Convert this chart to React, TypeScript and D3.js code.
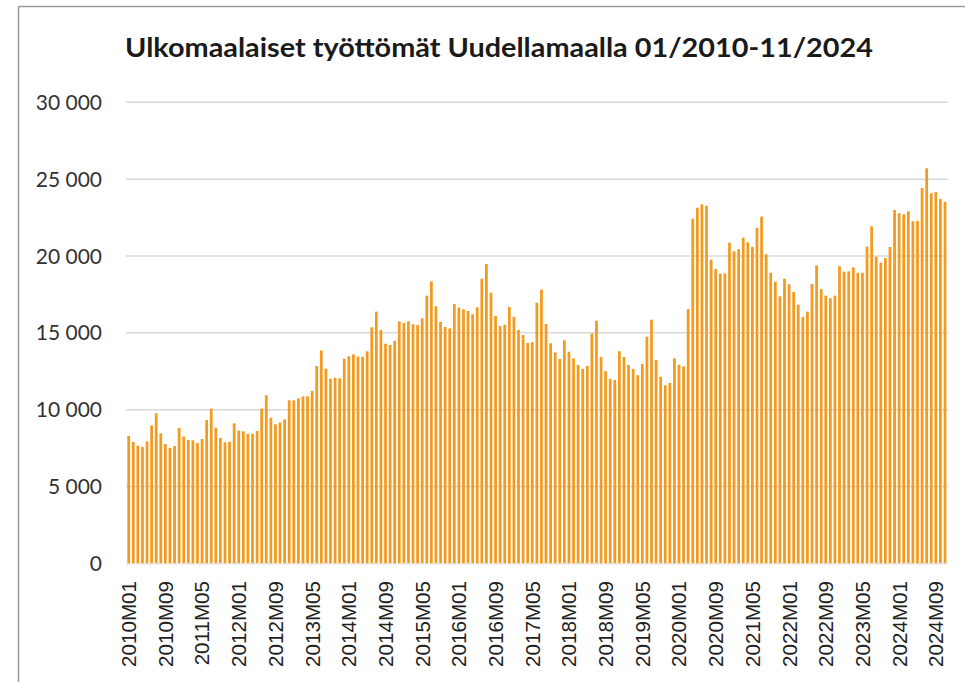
import React from "react";
import * as d3 from "d3";

const TITLE = "Ulkomaalaiset työttömät Uudellamaalla 01/2010-11/2024";

// Months 2010M01 .. 2024M11
const categories: string[] = [];
for (let y = 2010; y <= 2024; y++) {
  for (let m = 1; m <= 12; m++) {
    if (y === 2024 && m > 11) break;
    categories.push(`${y}M${m < 10 ? "0" + m : m}`);
  }
}

const values: number[] = [
  8290, 7900, 7660, 7570, 7940, 8980, 9760, 8460, 7770, 7510, 7640, 8810,
  8250, 8030, 8010, 7830, 8090, 9330, 10070, 8830, 8160, 7880, 7920, 9110,
  8640, 8590, 8420, 8440, 8620, 10070, 10940, 9480, 9050, 9160, 9370, 10610,
  10610, 10740, 10870, 10870, 11220, 12840, 13860, 12670, 12020, 12080, 12040, 13320,
  13470, 13600, 13450, 13450, 13800, 15360, 16380, 15190, 14290, 14210, 14480, 15740,
  15640, 15750, 15560, 15510, 15950, 17420, 18350, 16730, 15710, 15380, 15290, 16880,
  16640, 16530, 16420, 16210, 16660, 18520, 19480, 17610, 16100, 15450, 15530, 16680,
  16050, 15190, 14860, 14340, 14400, 16960, 17810, 15580, 14320, 13730, 13300, 14520,
  13770, 13340, 12910, 12650, 12840, 14950, 15790, 13430, 12500, 12000, 11930, 13800,
  13430, 12910, 12650, 12240, 12970, 14750, 15860, 13230, 12150, 11590, 11740, 13340,
  12930, 12820, 16550, 22430, 23140, 23360, 23270, 19760, 19150, 18850, 18870, 20870,
  20310, 20440, 21190, 20890, 20590, 21840, 22560, 20110, 18910, 18330, 17380, 18520,
  18160, 17660, 16830, 16030, 16380, 18190, 19390, 17850, 17420, 17250, 17420, 19330,
  18980, 19000, 19260, 18910, 18910, 20610, 21930, 19960, 19570, 19870, 20590, 22990,
  22780, 22710, 22910, 22260, 22280, 24420, 25710, 24080, 24160, 23710, 23530,
];

const yTicks: number[] = [0, 5000, 10000, 15000, 20000, 25000, 30000];
const xTickLabels: string[] = categories.filter((_, i) => i % 8 === 0);

const W = 965;
const H = 682;
const BAR_COLOR = "#F39A1F";

export default function App() {
  const x = d3
    .scaleBand<string>()
    .domain(categories)
    .range([126.4, 947.3])
    .paddingInner(0.4)
    .paddingOuter(0.2);
  const y = d3.scaleLinear().domain([0, 30000]).range([563.4, 102.3]);
  const fmt = (v: number) => (v === 0 ? "0" : d3.format(",")(v).replace(/,/g, " "));

  return (
    <svg
      width={W}
      height={H}
      style={{ position: "absolute", left: 0, top: 0, background: "#fff" }}
    >
      <rect x={0} y={0} width={W} height={H} fill="#fff" />
      {/* frame */}
      <line x1={18.5} y1={6.5} x2={W} y2={6.5} stroke="#9a9a9a" strokeWidth={1.5} />
      <line x1={18.5} y1={6.5} x2={18.5} y2={H} stroke="#9a9a9a" strokeWidth={1.5} />

      <text
        x={125}
        y={57}
        fontFamily="Lato, 'Open Sans', sans-serif"
        fontWeight={700}
        fontSize={27}
        fill="#1a1a1a"
        textLength={748}
        lengthAdjust="spacingAndGlyphs"
      >
        {TITLE}
      </text>

      {/* gridlines and y labels */}
      {yTicks.map((t) => (
        <g key={t}>
          {t > 0 && (
            <line
              x1={126}
              x2={948}
              y1={y(t)}
              y2={y(t)}
              stroke="#d9d9d9"
              strokeWidth={1.5}
            />
          )}
          <text
            x={102}
            y={y(t) + 7.5}
            textAnchor="end"
            fontFamily="Lato, 'Open Sans', sans-serif"
            fontSize={21}
            fill="#333"
          >
            {fmt(t)}
          </text>
        </g>
      ))}

      {/* bars */}
      {values.map((v, i) => (
        <rect
          key={categories[i]}
          x={x(categories[i])}
          y={y(v)}
          width={x.bandwidth()}
          height={y(0) - y(v)}
          fill={BAR_COLOR}
        />
      ))}

      <line x1={126} x2={948} y1={y(0) + 0.5} y2={y(0) + 0.5} stroke="#d9d9d9" strokeWidth={1} />

      {/* x labels */}
      {xTickLabels.map((c) => {
        const cx = (x(c) as number) + x.bandwidth() / 2;
        return (
          <text
            key={c}
            transform={`translate(${cx},581) rotate(-90)`}
            textAnchor="end"
            dy="0.36em"
            fontFamily="'Liberation Sans', Arial, sans-serif"
            fontSize={20.6}
            fill="#222"
          >
            {c}
          </text>
        );
      })}
    </svg>
  );
}
